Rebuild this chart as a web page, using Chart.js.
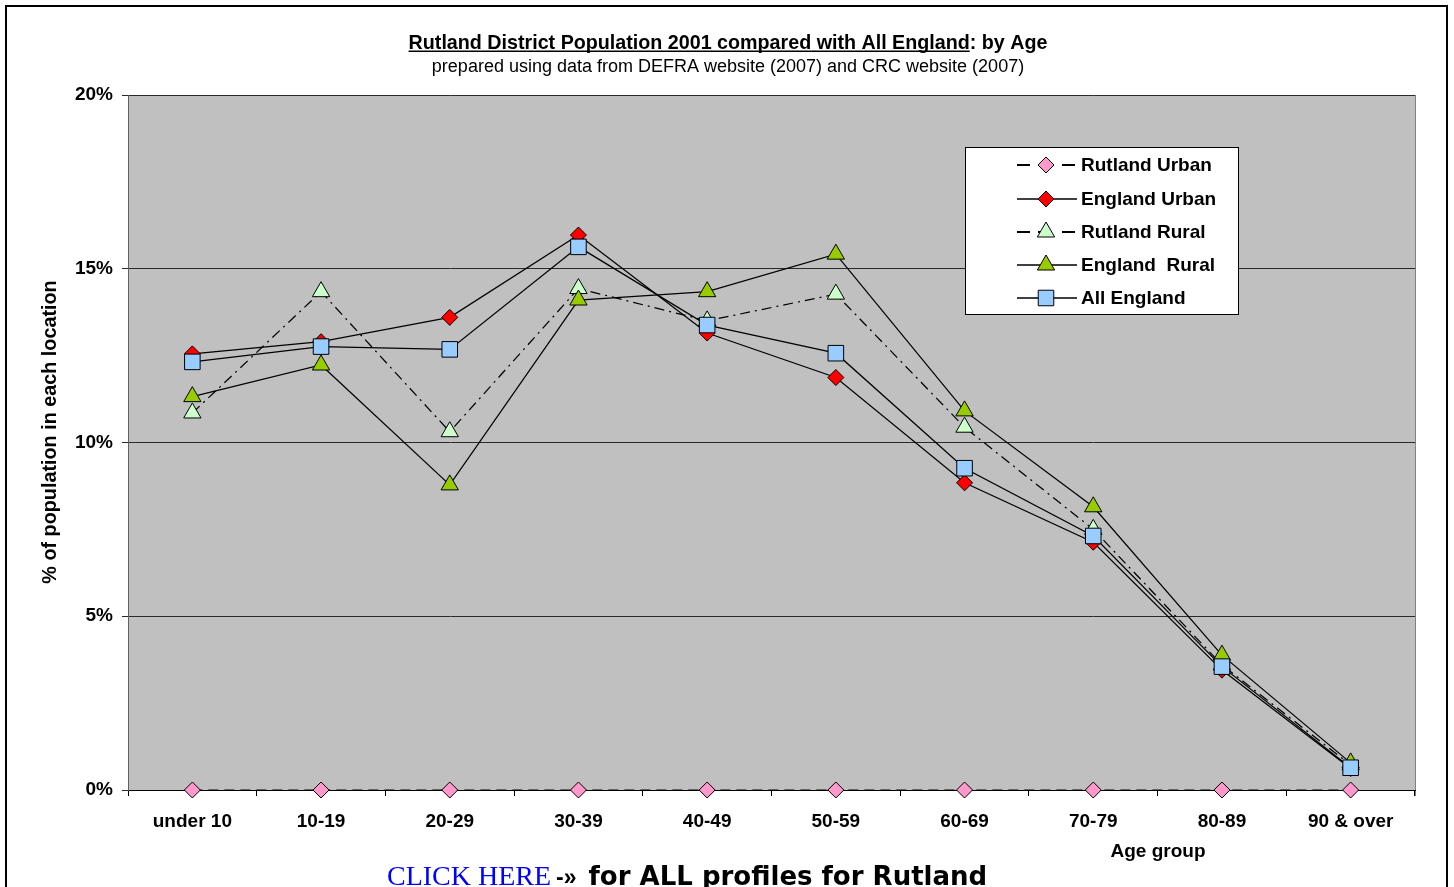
<!DOCTYPE html>
<html>
<head>
<meta charset="utf-8">
<script src="https://cdn.jsdelivr.net/npm/chart.js@4/dist/chart.umd.min.js"></script>
<style>
  html, body { margin: 0; padding: 0; background: #fff; overflow: hidden; }
  #wrap { position: relative; width: 1454px; height: 887px; overflow: hidden; }
  #frame { position: absolute; left: 5px; top: 5px; width: 1443px; height: 1000px;
           border: 2px solid #000; box-sizing: border-box; pointer-events: none; }
  #chart { position: absolute; left: 0; top: 0; }
  #link { position: absolute; left: 387px; top: 862px; white-space: nowrap; line-height: 1; }
  #link .a { font-family: "Liberation Serif", serif; font-size: 28px; color: #0000ff; }
  #link .b { font-family: "Liberation Sans", Arial, sans-serif; font-weight: bold; font-size: 23px; color: #000; margin-left: 1px; margin-right: 12px; }
  #link .c { font-family: "DejaVu Sans", sans-serif; font-weight: bold; font-size: 26px; color: #000; }
</style>
</head>
<body>
<div id="wrap">
  <canvas id="chart" width="1454" height="887"></canvas>
  <div id="frame"></div>
  <div id="link"><span class="a">CLICK HERE</span> <span class="b">-»</span><span class="c">for ALL profiles for Rutland</span></div>
</div>
<script>
// Age bands and share of population (%) in each location
const ageGroups = ['under 10', '10-19', '20-29', '30-39', '40-49', '50-59', '60-69', '70-79', '80-89', '90 & over'];
const rutlandUrban = [0, 0, 0, 0, 0, 0, 0, 0, 0, 0];
const englandUrban = [12.55, 12.9, 13.6, 15.97, 13.15, 11.87, 8.84, 7.13, 3.45, 0.62];
const rutlandRural = [10.85, 14.34, 10.31, 14.43, 13.5, 14.27, 10.44, 7.5, 3.6, 0.72];
const englandRural = [11.32, 12.23, 8.78, 14.1, 14.34, 15.42, 10.91, 8.15, 3.88, 0.78];
const allEngland = [12.32, 12.76, 12.68, 15.63, 13.38, 12.57, 9.26, 7.31, 3.55, 0.64];
const yTicks = [0, 5, 10, 15, 20];

const FONT = '"Liberation Sans", Arial, sans-serif';

function series(label, data, style) {
  return Object.assign({
    label, data,
    borderColor: '#000',
    borderWidth: 1.25,
    pointBorderColor: '#000',
    pointBorderWidth: 1,
    pointHoverRadius: 0,
    tension: 0,
    clip: false
  }, style);
}

// legendDash: the short key sample drawn either side of the marker
const datasets = [
  series('Rutland Urban', rutlandUrban, { borderDash: [10, 6], legendDash: [13, 32, 13, 100], pointStyle: 'rectRot', pointRadius: 8, pointBackgroundColor: '#FF99CC', order: 5 }),
  series('England Urban', englandUrban, { pointStyle: 'rectRot', pointRadius: 8, pointBackgroundColor: '#FF0000', order: 4 }),
  series('Rutland Rural', rutlandRural, { borderDash: [10, 5, 2, 5], legendDash: [13, 8, 2, 22, 13, 100], pointStyle: 'triangle', pointRadius: 10, pointBackgroundColor: '#CCFFCC', order: 3 }),
  series('England  Rural', englandRural, { pointStyle: 'triangle', pointRadius: 10, pointBackgroundColor: '#99CC00', order: 2 }),
  series('All England', allEngland, { pointStyle: 'rect', pointRadius: 11, pointBackgroundColor: '#99CCFF', order: 1 })
];

// Grey plot background and its right-hand edge
const plotBackground = {
  id: 'plotBackground',
  beforeDraw(chart) {
    const { ctx, chartArea: a } = chart;
    ctx.save();
    ctx.fillStyle = '#C0C0C0';
    ctx.fillRect(a.left, a.top, a.right - a.left, a.bottom - a.top);
    ctx.strokeStyle = '#808080';
    ctx.lineWidth = 1;
    ctx.beginPath();
    ctx.moveTo(Math.round(a.right) + 0.5, a.top);
    ctx.lineTo(Math.round(a.right) + 0.5, a.bottom + 6);
    ctx.stroke();
    ctx.restore();
  }
};

// Titles, axis captions and the legend box
const annotations = {
  id: 'annotations',
  afterDraw(chart) {
    const { ctx } = chart;
    ctx.save();
    ctx.fillStyle = '#000';
    ctx.textBaseline = 'alphabetic';

    // main title, first part underlined
    const part1 = 'Rutland District Population 2001 compared with All England';
    const part2 = ': by Age';
    ctx.font = 'bold 19.7px ' + FONT;
    const w1 = ctx.measureText(part1).width;
    const w2 = ctx.measureText(part2).width;
    const x0 = 728 - (w1 + w2) / 2;
    ctx.textAlign = 'left';
    ctx.fillText(part1, x0, 49);
    ctx.fillText(part2, x0 + w1, 49);
    ctx.fillRect(x0, 50.5, w1, 1.5);

    ctx.font = '18px ' + FONT;
    ctx.textAlign = 'center';
    ctx.fillText('prepared using data from DEFRA website (2007) and CRC website (2007)', 728, 72);

    // axis captions
    ctx.font = 'bold 19px ' + FONT;
    ctx.textBaseline = 'middle';
    ctx.fillText('Age group', 1158, 852);
    ctx.save();
    ctx.translate(51, 432);
    ctx.rotate(-Math.PI / 2);
    ctx.font = 'bold 19.8px ' + FONT;
    ctx.fillText('% of population in each location', 0, 0);
    ctx.restore();

    // legend
    const box = { x: 965, y: 147, w: 273, h: 167 };
    ctx.fillStyle = '#fff';
    ctx.fillRect(box.x, box.y, box.w, box.h);
    ctx.strokeStyle = '#000';
    ctx.lineWidth = 1;
    ctx.strokeRect(box.x + 0.5, box.y + 0.5, box.w, box.h);
    const rowY = [165, 199, 232, 265, 298];
    chart.data.datasets.forEach((ds, i) => {
      const y = rowY[i];
      ctx.save();
      ctx.strokeStyle = ds.borderColor;
      ctx.lineWidth = ds.legendDash ? 2 : ds.borderWidth + 0.25;
      ctx.setLineDash(ds.legendDash || []);
      ctx.beginPath();
      ctx.moveTo(1017, y);
      ctx.lineTo(1077, y);
      ctx.stroke();
      ctx.setLineDash([]);
      ctx.fillStyle = ds.pointBackgroundColor;
      ctx.strokeStyle = ds.pointBorderColor;
      ctx.lineWidth = ds.pointBorderWidth;
      Chart.helpers.drawPoint(ctx, {
        pointStyle: ds.pointStyle, radius: ds.pointRadius, rotation: 0, borderWidth: ds.pointBorderWidth
      }, 1046, y);
      ctx.restore();
      ctx.fillStyle = '#000';
      ctx.textAlign = 'left';
      ctx.textBaseline = 'middle';
      ctx.font = 'bold 19px ' + FONT;
      ctx.fillText(ds.label, 1081, y + 1);
    });
    ctx.restore();
  }
};

new Chart(document.getElementById('chart'), {
  type: 'line',
  data: { labels: ageGroups, datasets },
  options: {
    responsive: false,
    devicePixelRatio: 1,
    animation: false,
    events: [],
    layout: { padding: { top: 95, right: 39, left: 0, bottom: 0 } },
    plugins: { legend: { display: false }, title: { display: false }, tooltip: { enabled: false } },
    scales: {
      x: {
        type: 'category',
        offset: true,
        grid: { offset: true, drawOnChartArea: false, tickLength: 6, color: '#000', lineWidth: 1 },
        border: { color: '#000', width: 1 },
        ticks: { color: '#000', font: { family: FONT, size: 19, weight: 'bold' }, padding: 14, maxRotation: 0, autoSkip: false },
        afterFit(scale) { scale.height = 97; }
      },
      y: {
        min: 0,
        max: 20,
        afterBuildTicks(scale) { scale.ticks = yTicks.map(v => ({ value: v })); },
        grid: { color: '#2a2a2a', lineWidth: 1, tickLength: 6 },
        border: { color: '#606060', width: 1 },
        ticks: { color: '#000', font: { family: FONT, size: 19, weight: 'bold' }, padding: 9, callback: v => v + '%' },
        afterFit(scale) { scale.width = 128; }
      }
    }
  },
  plugins: [plotBackground, annotations]
});
</script>
</body>
</html>
